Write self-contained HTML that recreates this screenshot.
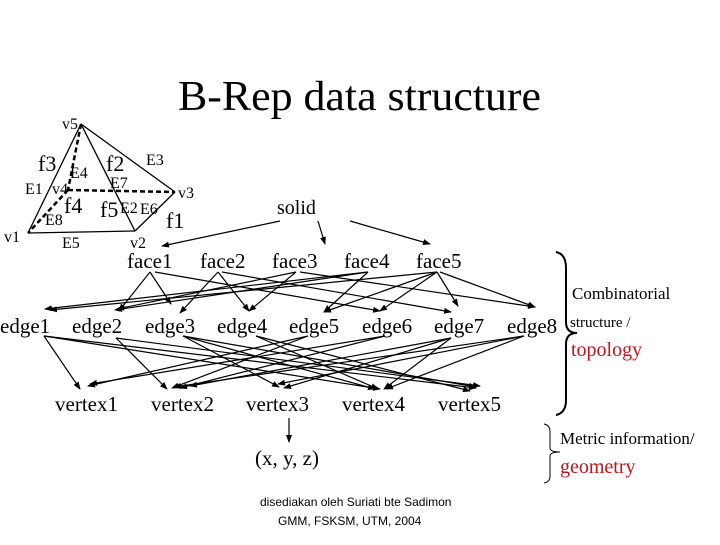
<!DOCTYPE html>
<html><head><style>
html,body{margin:0;padding:0;background:#fff;}
svg text{font-family:"Liberation Serif",serif;fill:#000;}
</style></head><body>
<svg width="720" height="540" viewBox="0 0 720 540" xmlns="http://www.w3.org/2000/svg">
<defs><marker id="a" markerWidth="8" markerHeight="6" refX="7" refY="3" orient="auto" markerUnits="userSpaceOnUse"><path d="M0,0 L8,3 L0,6 z" fill="#000"/></marker></defs>
<text x="178" y="110" font-size="42" textLength="363" lengthAdjust="spacingAndGlyphs">B-Rep data structure</text>
<!-- pyramid -->
<g stroke="#000" stroke-width="1.3" fill="none">
<line x1="81" y1="124" x2="28" y2="233"/>
<line x1="81" y1="124" x2="135" y2="231"/>
<line x1="81" y1="124" x2="175" y2="192"/>
<line x1="28" y1="233" x2="135" y2="231"/>
<line x1="135" y1="231" x2="175" y2="192"/>
<g stroke-dasharray="5,3" stroke-width="2.5"><line x1="81" y1="124" x2="68" y2="190"/><line x1="68" y1="190" x2="175" y2="192"/><line x1="68" y1="190" x2="28" y2="233"/></g>
</g>
<g font-size="16"><text x="62" y="129">v5</text><text x="146" y="165">E3</text><text x="70" y="178">E4</text><text x="110" y="188">E7</text><text x="25" y="194">E1</text><text x="52" y="194">v4</text><text x="178" y="198">v3</text><text x="120" y="213">E2</text><text x="140" y="214">E6</text><text x="45" y="225">E8</text><text x="4" y="242">v1</text><text x="62" y="248">E5</text><text x="130" y="248">v2</text></g>
<g font-size="22"><text x="38" y="171">f3</text><text x="106" y="171">f2</text><text x="64" y="213">f4</text><text x="100" y="217">f5</text><text x="166" y="228">f1</text></g>
<text x="277" y="214" font-size="20">solid</text>
<g stroke="#000" stroke-width="1.2" marker-end="url(#a)"><line x1="280" y1="221" x2="162" y2="246"/><line x1="318" y1="221" x2="325" y2="244"/><line x1="350" y1="221" x2="430" y2="244"/></g>
<g font-size="21"><text x="127" y="268">face1</text><text x="200" y="268">face2</text><text x="272" y="268">face3</text><text x="344" y="268">face4</text><text x="416" y="268">face5</text>
<text x="0" y="333">edge1</text><text x="72" y="333">edge2</text><text x="145" y="333">edge3</text><text x="217" y="333">edge4</text><text x="289" y="333">edge5</text><text x="362" y="333">edge6</text><text x="434" y="333">edge7</text><text x="507" y="333">edge8</text>
<text x="55" y="411">vertex1</text><text x="151" y="411">vertex2</text><text x="246" y="411">vertex3</text><text x="342" y="411">vertex4</text><text x="438" y="411">vertex5</text>
<text x="255" y="465">(x, y, z)</text></g>
<g stroke="#000" stroke-width="1.2" marker-end="url(#a)">
<line x1="150" y1="272" x2="119" y2="311"/><line x1="150" y1="272" x2="171" y2="304"/><line x1="155" y1="272" x2="380" y2="311"/>
<line x1="218" y1="272" x2="180" y2="313"/><line x1="218" y1="272" x2="249" y2="311"/><line x1="222" y1="272" x2="451" y2="312"/>
<line x1="296" y1="272" x2="249" y2="311"/><line x1="296" y1="272" x2="117" y2="309"/><line x1="300" y1="272" x2="535" y2="307"/>
<line x1="368" y1="272" x2="45" y2="309"/><line x1="368" y1="272" x2="324" y2="312"/><line x1="368" y1="272" x2="115" y2="310"/>
<line x1="437" y1="272" x2="324" y2="312"/><line x1="437" y1="272" x2="380" y2="311"/><line x1="437" y1="272" x2="458" y2="306"/><line x1="440" y1="272" x2="535" y2="307"/><line x1="437" y1="272" x2="50" y2="310"/>
<line x1="44" y1="336" x2="80" y2="389"/><line x1="44" y1="336" x2="476" y2="388"/><line x1="44" y1="336" x2="380" y2="389"/>
<line x1="116" y1="338" x2="167" y2="389"/><line x1="116" y1="338" x2="480" y2="386"/>
<line x1="183" y1="336" x2="279" y2="387"/><line x1="183" y1="336" x2="375" y2="389"/><line x1="183" y1="336" x2="476" y2="387"/>
<line x1="256" y1="336" x2="378" y2="389"/><line x1="256" y1="336" x2="470" y2="391"/>
<line x1="308" y1="336" x2="88" y2="386"/><line x1="308" y1="336" x2="172" y2="388"/>
<line x1="385" y1="336" x2="90" y2="384"/><line x1="385" y1="336" x2="180" y2="388"/>
<line x1="451" y1="338" x2="284" y2="388"/><line x1="451" y1="338" x2="384" y2="389"/><line x1="451" y1="338" x2="190" y2="386"/>
<line x1="524" y1="336" x2="278" y2="384"/><line x1="524" y1="336" x2="386" y2="389"/><line x1="524" y1="336" x2="174" y2="387"/>
<line x1="289" y1="418" x2="289" y2="442"/>
</g>
<g stroke="#000" stroke-width="2" fill="none">
<path d="M556,252 Q566,254 566,268 L566,322 Q566,333 577,333 Q566,333 566,344 L566,400 Q566,413 556,415"/>
<path d="M544,424 Q550,425 550,432 L550,448 Q550,452 560,452 Q550,452 550,456 L550,476 Q550,482 544,483" stroke-width="1"/>
</g>
<g font-size="17"><text x="572" y="299">Combinatorial</text><text x="570" y="327" font-size="15">structure /</text><text x="560" y="444">Metric information/</text></g>
<text x="571" y="356" font-size="20" style="fill:#c0151b">topology</text>
<text x="560" y="473" font-size="20" style="fill:#c0151b">geometry</text>
<g font-size="12"><text x="260" y="506" style="font-family:'Liberation Sans',sans-serif">disediakan oleh Suriati bte Sadimon</text><text x="278" y="525" style="font-family:'Liberation Sans',sans-serif">GMM, FSKSM, UTM, 2004</text></g>
</svg>
</body></html>
